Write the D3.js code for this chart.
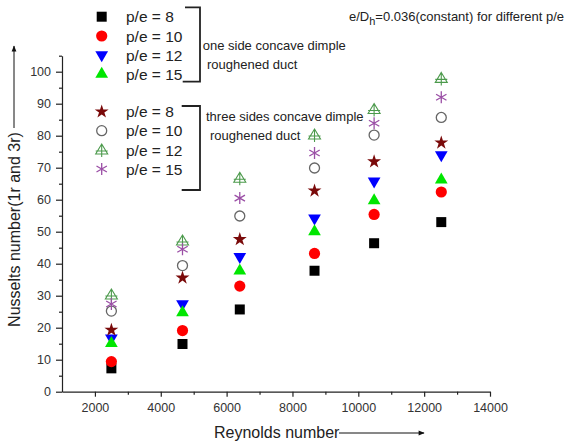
<!DOCTYPE html>
<html>
<head>
<meta charset="utf-8">
<script src="https://cdn.jsdelivr.net/npm/d3@7"></script>
<style>
  body { margin: 0; background: #fff; }
  svg { font-family: "Liberation Sans", Arial, sans-serif; }
  .axis path, .axis line { stroke: #222; stroke-width: 1.2; }
  .axis text { fill: #333; font-size: 12.5px; }
</style>
</head>
<body>
<svg id="chart" width="568" height="443"></svg>
<script>
// Reynolds numbers (x) for each column of points
var reynolds = [2500, 4660, 6400, 8670, 10480, 12520];

// one side concave dimple roughened duct
var one_pe8 = [7.3, 14.9, 25.7, 37.8, 46.4, 53.0];
var one_pe10 = [9.4, 19.1, 33.0, 43.2, 55.4, 62.4];
var one_pe12 = [16.7, 27.4, 42.2, 54.2, 65.8, 74.0];
var one_pe15 = [15.1, 24.7, 37.8, 50.0, 59.7, 66.2];

// three sides concave dimple roughened duct
var three_pe8 = [19.3, 35.6, 47.6, 62.8, 71.9, 77.8];
var three_pe10 = [25.2, 39.4, 54.9, 69.9, 80.2, 85.7];
var three_pe12 = [30.2, 47.1, 66.7, 80.2, 88.2, 97.9];
var three_pe15 = [27.4, 44.5, 60.5, 74.6, 83.9, 92.0];

var legendLabels = ["p/e = 8", "p/e = 10", "p/e = 12", "p/e = 15"];
var xTicks = [2000, 4000, 6000, 8000, 10000, 12000, 14000];
var yTicks = [0, 10, 20, 30, 40, 50, 60, 70, 80, 90, 100];

var svg = d3.select("#chart");

var x = d3.scaleLinear().domain([1000, 14000]).range([62, 490]);
var y = d3.scaleLinear().domain([0, 105]).range([391.7, 55.7]);

// marker drawing functions, centred on 0,0
var markers = {
  square: g => g.append("path").attr("d", d3.symbol(d3.symbolSquare, 100)()).attr("fill", "#000"),
  circle: g => g.append("circle").attr("r", 5.6).attr("fill", "#ff0000"),
  down: g => g.append("path").attr("d", d3.symbol(d3.symbolTriangle, 70)()).attr("transform", "rotate(180)").attr("fill", "#0000ff"),
  up: g => g.append("path").attr("d", d3.symbol(d3.symbolTriangle, 70)()).attr("fill", "#00e600"),
  star: g => g.append("path").attr("d", d3.symbol(d3.symbolStar, 60)()).attr("fill", "#7a0a0a"),
  open: g => g.append("circle").attr("r", 5).attr("fill", "none").attr("stroke", "#666").attr("stroke-width", 1.3),
  crossTri: g => g.append("path")
    .attr("d", "M0,-6L6,4L-6,4Z M0,-6L0,7 M-6,1L6,1")
    .attr("fill", "none").attr("stroke", "#4c9a4c").attr("stroke-width", 1.1),
  aster: g => g.append("path")
    .attr("d", "M0,-6L0,6 M-5.2,-3L5.2,3 M-5.2,3L5.2,-3")
    .attr("fill", "none").attr("stroke", "#9b4fa6").attr("stroke-width", 1.3)
};

var series = [
  { vals: one_pe8, mk: "square" },
  { vals: one_pe10, mk: "circle" },
  { vals: one_pe12, mk: "down" },
  { vals: one_pe15, mk: "up" },
  { vals: three_pe8, mk: "star" },
  { vals: three_pe10, mk: "open" },
  { vals: three_pe12, mk: "crossTri" },
  { vals: three_pe15, mk: "aster" }
];

// axes
svg.append("g")
  .attr("class", "axis")
  .attr("transform", "translate(0," + y(0) + ")")
  .call(d3.axisBottom(x).tickValues(xTicks).tickSize(5).tickPadding(6).tickSizeOuter(0).tickFormat(d3.format("d")));
svg.append("g")
  .attr("class", "axis")
  .attr("transform", "translate(0," + y(0) + ")")
  .call(d3.axisBottom(x).tickValues([3000, 5000, 7000, 9000, 11000, 13000]).tickSize(3).tickSizeOuter(0).tickFormat(""))
  .select(".domain").remove();

svg.append("g")
  .attr("class", "axis")
  .attr("transform", "translate(" + x(1000) + ",0)")
  .call(d3.axisLeft(y).tickValues(yTicks).tickSize(6).tickPadding(5).tickSizeOuter(0));
svg.append("g")
  .attr("class", "axis")
  .attr("transform", "translate(" + x(1000) + ",0)")
  .call(d3.axisLeft(y).tickValues([5, 15, 25, 35, 45, 55, 65, 75, 85, 95, 105]).tickSize(3).tickSizeOuter(0).tickFormat(""))
  .select(".domain").remove();

// points
series.forEach(s => {
  s.vals.forEach((v, i) => {
    var g = svg.append("g").attr("transform", "translate(" + x(reynolds[i]) + "," + y(v) + ")");
    markers[s.mk](g);
  });
});

// legend
var legY = [16.7, 36, 55, 74, 111.7, 130.7, 150, 169];
series.forEach((s, i) => {
  var g = svg.append("g").attr("transform", "translate(101.7," + legY[i] + ")");
  markers[s.mk](g);
  svg.append("text").attr("x", 126).attr("y", legY[i]).attr("dy", "0.36em")
    .style("font-size", "15.5px").attr("fill", "#222").text(legendLabels[i % 4]);
});

// brackets
svg.append("path").attr("d", "M185,7.3H200V81.7H182.7").attr("fill", "none").attr("stroke", "#222").attr("stroke-width", 1.8);
svg.append("path").attr("d", "M181.7,106H200V190H181.7").attr("fill", "none").attr("stroke", "#222").attr("stroke-width", 1.8);

svg.append("text").attr("x", 202.7).attr("y", 45.7).attr("dy", "0.36em").style("font-size", "13px").attr("fill", "#222").text("one side concave dimple");
svg.append("text").attr("x", 207).attr("y", 64).attr("dy", "0.36em").style("font-size", "13px").attr("fill", "#222").text("roughened duct");
svg.append("text").attr("x", 206).attr("y", 116.7).attr("dy", "0.36em").style("font-size", "13px").attr("fill", "#222").text("three sides concave dimple");
svg.append("text").attr("x", 210).attr("y", 135).attr("dy", "0.36em").style("font-size", "13px").attr("fill", "#222").text("roughened duct");

// annotation
var ann = svg.append("text").attr("x", 349).attr("y", 16.7).attr("dy", "0.36em").style("font-size", "13px").attr("fill", "#222");
ann.append("tspan").text("e/D");
ann.append("tspan").attr("dy", "4").style("font-size", "11px").text("h");
ann.append("tspan").attr("dy", "-4").text("=0.036(constant) for different p/e");

// axis titles with arrows
svg.append("defs").append("marker")
  .attr("id", "arr").attr("viewBox", "0 0 10 10").attr("refX", 9).attr("refY", 5)
  .attr("markerWidth", 8).attr("markerHeight", 6).attr("orient", "auto")
  .append("path").attr("d", "M0,1L10,5L0,9Z").attr("fill", "#111");

svg.append("text").attr("x", 214).attr("y", 432).attr("dy", "0.36em")
  .style("font-size", "16px").attr("fill", "#222").text("Reynolds number");
svg.append("line").attr("x1", 339).attr("y1", 433).attr("x2", 424).attr("y2", 433)
  .attr("stroke", "#111").attr("stroke-width", 1).attr("marker-end", "url(#arr)");

svg.append("text").attr("transform", "translate(14,229.5) rotate(-90)")
  .attr("text-anchor", "middle").attr("dy", "0.36em")
  .style("font-size", "16px").attr("fill", "#222").text("Nusselts number(1r and 3r)");
svg.append("line").attr("x1", 14).attr("y1", 128).attr("x2", 14).attr("y2", 46)
  .attr("stroke", "#111").attr("stroke-width", 1).attr("marker-end", "url(#arr)");
</script>
</body>
</html>
